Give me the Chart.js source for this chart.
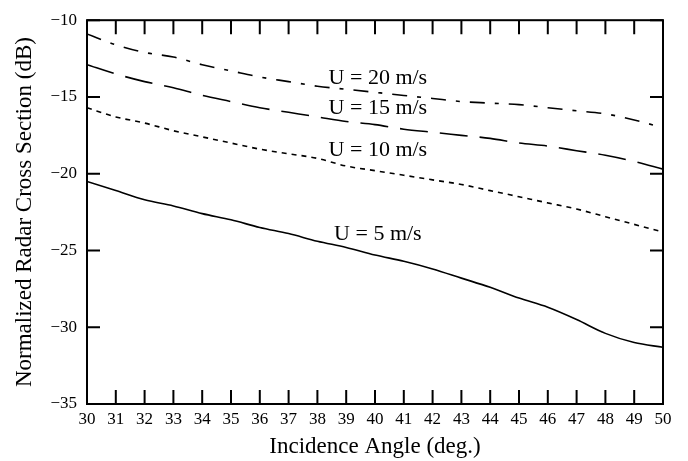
<!DOCTYPE html>
<html>
<head>
<meta charset="utf-8">
<script src="https://cdn.jsdelivr.net/npm/chart.js@4.4.1/dist/chart.umd.min.js"></script>
<style>
  html, body { margin: 0; padding: 0; background: #fff; }
</style>
</head>
<body>
<canvas id="rcsChart" width="688" height="461"></canvas>
<script>
// incidence angle (deg.)
const angles = [30, 31, 32, 33, 34, 35, 36, 37, 38, 39, 40, 41, 42, 43, 44, 45, 46, 47, 48, 49, 50];

// normalized radar cross section (dB) per wind speed
const rcsU5  = [-20.5, -21.1, -21.7, -22.1, -22.6, -23.0, -23.5, -23.9, -24.4, -24.8, -25.3, -25.7, -26.2, -26.8, -27.4, -28.1, -28.7, -29.5, -30.4, -31.0, -31.3];
const rcsU10 = [-15.7, -16.3, -16.7, -17.2, -17.6, -18.0, -18.4, -18.7, -19.0, -19.5, -19.8, -20.1, -20.4, -20.7, -21.1, -21.5, -21.9, -22.3, -22.8, -23.3, -23.8];
const rcsU15 = [-12.9, -13.5, -14.0, -14.4, -14.9, -15.3, -15.7, -16.0, -16.3, -16.6, -16.8, -17.1, -17.3, -17.5, -17.7, -18.0, -18.2, -18.5, -18.8, -19.2, -19.7];
const rcsU20 = [-10.9, -11.6, -12.1, -12.4, -12.9, -13.3, -13.7, -14.0, -14.3, -14.5, -14.7, -14.9, -15.1, -15.3, -15.4, -15.5, -15.7, -15.9, -16.1, -16.5, -17.0];

const seriesNames = ['U = 5 m/s', 'U = 10 m/s', 'U = 15 m/s', 'U = 20 m/s'];

const serif = '"Liberation Serif", "Times New Roman", serif';

// where each curve's label sits, in axis units
const labelSpots = [
    { x: 40.1, y: -23.95 },
    { x: 40.1, y: -18.5 },
    { x: 40.1, y: -15.72 },
    { x: 40.1, y: -13.75 }
];

function toPoints(values) {
    return angles.map((a, i) => ({ x: a, y: values[i] }));
}

// box with inward ticks on all four sides, plus the curve labels
const framePlugin = {
    id: 'frame',
    afterDatasetsDraw(chart) {
        const { ctx, chartArea: a, scales: { x, y } } = chart;
        ctx.save();
        ctx.strokeStyle = '#000';
        ctx.lineWidth = 2;
        ctx.beginPath();
        x.ticks.forEach(t => {
            const px = x.getPixelForValue(t.value);
            ctx.moveTo(px, a.bottom);
            ctx.lineTo(px, a.bottom - 14);
            ctx.moveTo(px, a.top);
            ctx.lineTo(px, a.top + 14);
        });
        y.ticks.forEach(t => {
            const py = y.getPixelForValue(t.value);
            ctx.moveTo(a.left, py);
            ctx.lineTo(a.left + 13, py);
            ctx.moveTo(a.right, py);
            ctx.lineTo(a.right - 13, py);
        });
        ctx.stroke();
        ctx.strokeRect(a.left, a.top, a.right - a.left, a.bottom - a.top);

        ctx.fillStyle = '#000';
        ctx.font = '22px ' + serif;
        ctx.textAlign = 'center';
        ctx.textBaseline = 'middle';
        labelSpots.forEach((p, i) => {
            ctx.fillText(seriesNames[i], x.getPixelForValue(p.x), y.getPixelForValue(p.y));
        });
        ctx.restore();
    }
};

const lineBase = {
    borderColor: '#000',
    borderWidth: 1.6,
    pointRadius: 0,
    fill: false,
    cubicInterpolationMode: 'monotone'
};

new Chart(document.getElementById('rcsChart').getContext('2d'), {
    type: 'line',
    data: {
        datasets: [
            { ...lineBase, label: seriesNames[0], data: toPoints(rcsU5) },
            { ...lineBase, label: seriesNames[1], data: toPoints(rcsU10), borderDash: [5, 5] },
            { ...lineBase, label: seriesNames[2], data: toPoints(rcsU15), borderDash: [28, 12] },
            { ...lineBase, label: seriesNames[3], data: toPoints(rcsU20), borderDash: [15, 10, 4, 10] }
        ]
    },
    options: {
        responsive: false,
        animation: false,
        devicePixelRatio: 1,
        layout: { padding: { left: 0, top: 16, right: 25, bottom: 0 } },
        plugins: {
            legend: { display: false },
            tooltip: { enabled: false }
        },
        scales: {
            x: {
                type: 'linear',
                min: 30,
                max: 50,
                grid: { display: false, drawTicks: false },
                border: { display: false },
                ticks: {
                    stepSize: 1,
                    color: '#000',
                    padding: 5,
                    maxRotation: 0,
                    font: { family: serif, size: 17 }
                },
                title: {
                    display: true,
                    text: 'Incidence Angle (deg.)',
                    color: '#000',
                    padding: 0,
                    font: { family: serif, size: 23 }
                },
                afterFit(scale) { scale.height = 57; }
            },
            y: {
                min: -35,
                max: -10,
                grid: { display: false, drawTicks: false },
                border: { display: false },
                ticks: {
                    stepSize: 5,
                    color: '#000',
                    padding: 10,
                    font: { family: serif, size: 17 },
                    callback: v => (v < 0 ? '\u2212' : '') + Math.abs(v)
                },
                title: {
                    display: true,
                    text: 'Normalized Radar Cross Section (dB)',
                    color: '#000',
                    padding: { top: 11, bottom: 0 },
                    font: { family: serif, size: 23 }
                },
                afterFit(scale) { scale.width = 87; }
            }
        }
    },
    plugins: [framePlugin]
});
</script>
</body>
</html>
